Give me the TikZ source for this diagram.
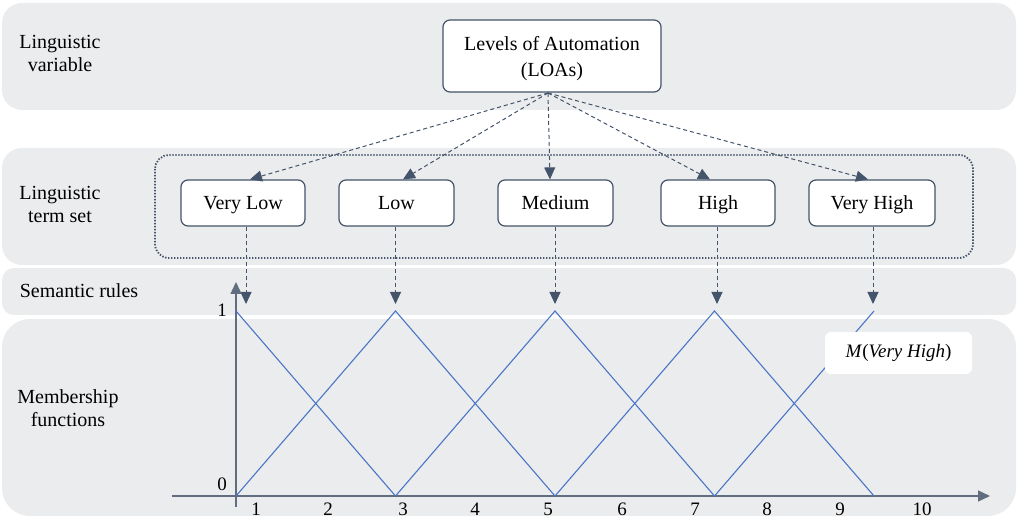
\documentclass[tikz,border=0pt]{standalone}
\usepackage{fontspec}
\setmainfont{Liberation Serif}
\usetikzlibrary{arrows.meta}
\definecolor{band}{HTML}{EBECEE}
\definecolor{slate}{HTML}{44546A}
\definecolor{mfblue}{HTML}{4A76C6}
\begin{document}
\begin{tikzpicture}[x=1pt,y=-1pt,
  font=\fontsize{20}{23}\selectfont,
  bandfill/.style={fill=band},
  framebox/.style={draw=slate, line width=1.2pt, fill=white, rounded corners=7pt, inner sep=0pt},
  termbox/.style={framebox, text height=14pt, text depth=0pt},
  rowlabel/.style={align=center, inner sep=0pt},
  linkarrow/.style={draw=slate, line width=1pt, dash pattern=on 4pt off 3pt, -{Triangle[length=12pt,width=11pt]}},
  axisline/.style={draw=slate!85, line width=1.3pt, -{Triangle[length=12pt,width=11pt]}},
  mfline/.style={draw=mfblue, line width=1.1pt},
  tick/.style={inner sep=0pt, font=\fontsize{19}{22}\selectfont}]
\useasboundingbox (0,0) rectangle (1018,518);

% background bands
\fill[bandfill, rounded corners=20pt] (2,3) rectangle (1016,110);
\fill[bandfill, rounded corners=20pt] (2,148) rectangle (1016,265);
\fill[bandfill, rounded corners=12pt] (2,268) rectangle (1016,315);
\fill[bandfill, rounded corners=28pt] (2,319) rectangle (1016,516);

% row labels
\node[rowlabel] (lv)  at (60,53)  {Linguistic\\variable};
\node[rowlabel] (lts) at (60,204) {Linguistic\\term set};
\node[rowlabel] (sr)  at (79,291) {Semantic rules};
\node[rowlabel] (mf)  at (68,408) {Membership\\functions};

% linguistic variable
\node[framebox, minimum width=218pt, minimum height=72pt] (loa) at (552,56) {};
\node[align=center, inner sep=0pt] (loatext) at (552,59) {Levels of Automation\\[3pt](LOAs)};

% term set frame
\draw[slate, line width=1.8pt, dash pattern=on 1.4pt off 1.6pt, rounded corners=14pt] (155,155) rectangle (973,258);

% linguistic terms
\node[termbox, minimum width=124pt, minimum height=46pt] (vl) at (243,203)   {Very Low};
\node[termbox, minimum width=115pt, minimum height=46pt] (lo) at (396.5,203) {Low};
\node[termbox, minimum width=115pt, minimum height=46pt] (me) at (555.5,203) {Medium};
\node[termbox, minimum width=114pt, minimum height=46pt] (hi) at (718,203)   {High};
\node[termbox, minimum width=126pt, minimum height=46pt] (vh) at (872,203)   {Very High};

% variable to terms
\coordinate (src) at (548,93);
\draw[linkarrow] (src) -- ([xshift=7pt]vl.north);
\draw[linkarrow] (src) -- ([xshift=6.5pt]lo.north);
\draw[linkarrow] (src) -- ([xshift=-5.5pt]me.north);
\draw[linkarrow] (src) -- ([xshift=-8pt]hi.north);
\draw[linkarrow] (src) -- ([xshift=-4pt]vh.north);

% semantic rule targets
\coordinate (r1) at (246,304);
\coordinate (r2) at (395.5,304);
\coordinate (r3) at (555,304);
\coordinate (r4) at (717,304);
\coordinate (r5) at (873,304);
\draw[linkarrow] ([xshift=3pt]vl.south) -- (r1);
\draw[linkarrow] ([xshift=-1pt]lo.south) -- (r2);
\draw[linkarrow] ([xshift=-0.5pt]me.south) -- (r3);
\draw[linkarrow] ([xshift=-1pt]hi.south) -- (r4);
\draw[linkarrow] ([xshift=1pt]vh.south) -- (r5);

% axes
\coordinate (ybot) at (236,507);
\coordinate (ytop) at (236,282);
\coordinate (xl) at (172,496);
\coordinate (xr) at (990,496);
\draw[axisline] (ybot) -- (ytop);
\draw[axisline] (xl) -- (xr);

% membership functions
\coordinate (t1) at (236,311);   \coordinate (b1) at (236,496);
\coordinate (t2) at (395.5,311); \coordinate (b2) at (395.5,496);
\coordinate (t3) at (555,311);   \coordinate (b3) at (555,496);
\coordinate (t4) at (714.5,311); \coordinate (b4) at (714.5,496);
\coordinate (t5) at (874,311);   \coordinate (b5) at (874,496);
\draw[mfline] (t1) -- (b2);
\draw[mfline] (b1) -- (t2) -- (b3);
\draw[mfline] (b2) -- (t3) -- (b4);
\draw[mfline] (b3) -- (t4) -- (b5);
\draw[mfline] (b4) -- (t5);

% label of the last function
\node[fill=white, rounded corners=6pt, minimum width=147pt, minimum height=42pt, inner sep=0pt,
      font=\fontsize{19}{21}\selectfont] (mvh) at (898.5,353) {\textit{M}(\textit{Very High})};

% axis values
\node[tick] (y1) at (222,310) {1};
\node[tick] (y0) at (222,484) {0};
\node[tick] (x1)  at (256,509) {1};
\node[tick] (x2)  at (328,509) {2};
\node[tick] (x3)  at (403,509) {3};
\node[tick] (x4)  at (475,509) {4};
\node[tick] (x5)  at (548,509) {5};
\node[tick] (x6)  at (622,509) {6};
\node[tick] (x7)  at (695,509) {7};
\node[tick] (x8)  at (767,509) {8};
\node[tick] (x9)  at (840,509) {9};
\node[tick] (x10) at (922,509) {10};
\end{tikzpicture}
\end{document}
